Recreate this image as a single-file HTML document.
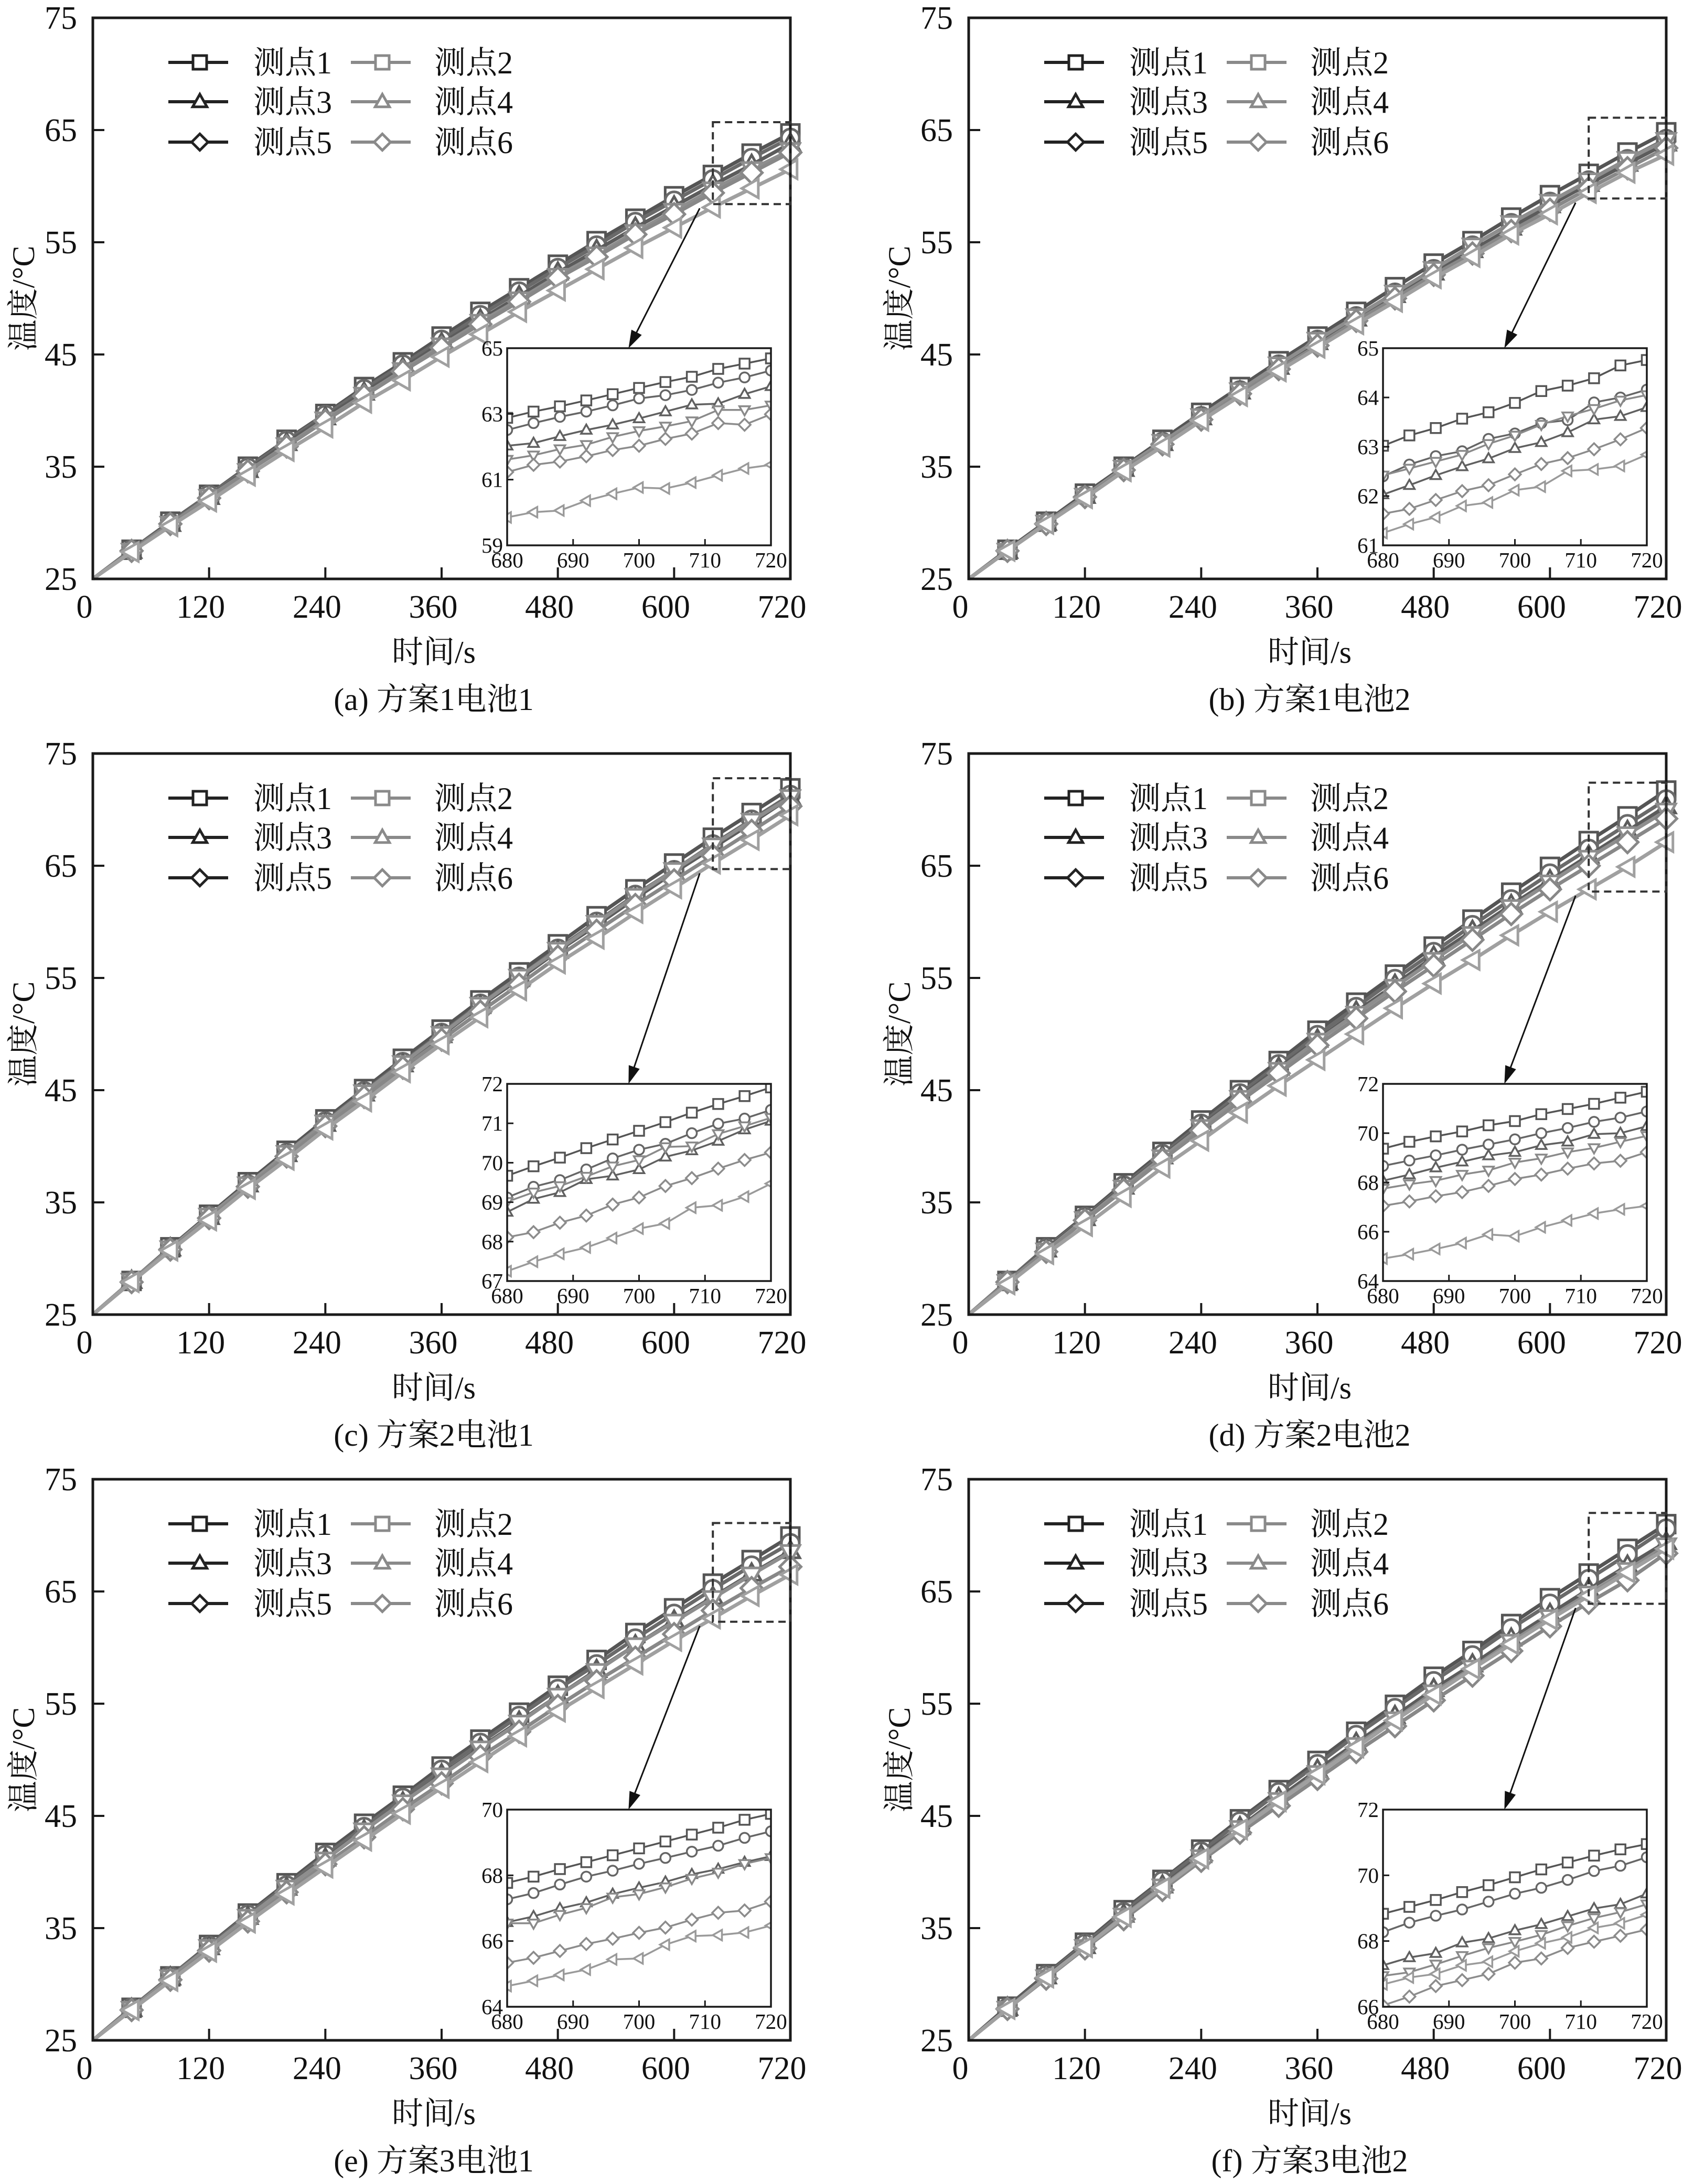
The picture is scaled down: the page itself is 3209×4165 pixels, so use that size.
<!DOCTYPE html>
<html><head><meta charset="utf-8"><title>温度曲线</title>
<style>
html,body{margin:0;padding:0;background:#fff;}
svg{display:block;}
text{font-family:"Liberation Serif","Noto Serif CJK SC",serif;fill:#111;}
</style></head>
<body>
<svg id="fig" xmlns="http://www.w3.org/2000/svg" width="3209" height="4165" viewBox="0 0 3209 4165"></svg>
<script>
// ---------- data ----------
const mainTimes = [0,40,80,120,160,200,240,280,320,360,400,440,480,520,560,600,640,680,720];
const insetTimes = [680,684,688,692,696,700,704,708,712,716,720];
const xTicks = [0,120,240,360,480,600,720];
const yTicks = [25,35,45,55,65,75];
const insetXTicks = [680,690,700,710,720];
const seriesNames = ["测点1","测点2","测点3","测点4","测点5","测点6"];
const captions = ["(a) 方案1电池1","(b) 方案1电池2","(c) 方案2电池1","(d) 方案2电池2","(e) 方案3电池1","(f) 方案3电池2"];

const panelA_main = [
 [25,27.6,30.1,32.5,35.0,37.4,39.7,42.1,44.3,46.6,48.8,50.9,53.0,55.1,57.1,59.1,61.0,62.9,64.7],
 [25,27.6,30.0,32.5,34.9,37.3,39.6,41.9,44.1,46.3,48.5,50.6,52.7,54.7,56.8,58.7,60.6,62.5,64.3],
 [25,27.5,29.9,32.3,34.7,37.1,39.4,41.6,43.8,46.0,48.1,50.2,52.3,54.3,56.3,58.2,60.1,61.9,63.8],
 [25,27.5,29.9,32.3,34.6,36.9,39.2,41.4,43.6,45.8,47.9,49.9,52.0,53.9,55.9,57.8,59.7,61.5,63.2],
 [25,27.5,29.9,32.2,34.6,36.8,39.1,41.3,43.5,45.6,47.7,49.7,51.8,53.7,55.7,57.5,59.4,61.2,63.0],
 [25,27.4,29.7,31.9,34.2,36.4,38.5,40.7,42.7,44.8,46.8,48.8,50.7,52.6,54.5,56.3,58.1,59.8,61.5]];
const panelA_inset = [
 [62.88,63.07,63.23,63.41,63.6,63.79,63.97,64.13,64.37,64.53,64.69],
 [62.51,62.72,62.91,63.07,63.26,63.47,63.57,63.73,63.95,64.11,64.32],
 [62.03,62.11,62.32,62.51,62.67,62.86,63.07,63.28,63.31,63.6,63.84],
 [61.61,61.74,61.93,62.06,62.3,62.48,62.62,62.78,63.12,63.12,63.26],
 [61.23,61.45,61.55,61.71,61.9,62.03,62.24,62.4,62.72,62.67,62.99],
 [59.85,60.01,60.06,60.36,60.57,60.76,60.73,60.91,61.13,61.34,61.45]];
const panelB_main = [
 [25,27.6,30.1,32.6,35.0,37.4,39.8,42.1,44.4,46.6,48.8,51.0,53.1,55.1,57.2,59.2,61.1,63.0,64.8],
 [25,27.5,30.0,32.4,34.9,37.2,39.5,41.8,44.1,46.3,48.4,50.5,52.6,54.7,56.7,58.6,60.5,62.4,64.2],
 [25,27.5,30.0,32.4,34.8,37.1,39.4,41.7,43.9,46.1,48.2,50.3,52.3,54.3,56.3,58.3,60.2,62.0,63.8],
 [25,27.5,30.0,32.4,34.9,37.2,39.5,41.8,44.1,46.3,48.4,50.5,52.6,54.7,56.7,58.6,60.5,62.4,64.1],
 [25,27.5,29.9,32.3,34.7,37.0,39.2,41.5,43.7,45.8,48.0,50.0,52.1,54.0,56.0,57.9,59.8,61.6,63.4],
 [25,27.5,29.9,32.2,34.6,36.8,39.1,41.3,43.5,45.6,47.7,49.7,51.8,53.7,55.7,57.5,59.4,61.2,62.8]];
const panelB_inset = [
 [63.02,63.23,63.38,63.57,63.7,63.89,64.13,64.24,64.39,64.65,64.76],
 [62.4,62.64,62.81,62.91,63.16,63.27,63.48,63.54,63.9,64.0,64.16],
 [62.03,62.22,62.42,62.6,62.76,62.97,63.09,63.29,63.55,63.62,63.8],
 [62.42,62.56,62.7,62.84,63.06,63.23,63.45,63.62,63.77,63.94,64.05],
 [61.64,61.74,61.92,62.1,62.22,62.44,62.65,62.77,62.95,63.15,63.38],
 [61.25,61.43,61.57,61.8,61.87,62.12,62.19,62.51,62.54,62.61,62.84]];
const panelC_main = [
 [25,28.0,31.0,33.9,36.8,39.6,42.4,45.1,47.8,50.4,53.0,55.5,58.0,60.5,62.9,65.2,67.5,69.7,71.9],
 [25,28.0,30.9,33.8,36.6,39.4,42.2,44.9,47.5,50.1,52.7,55.1,57.6,60.0,62.4,64.6,66.9,69.1,71.3],
 [25,28.0,30.9,33.7,36.6,39.3,42.0,44.7,47.3,49.9,52.5,54.9,57.4,59.7,62.1,64.4,66.6,68.8,71.1],
 [25,28.0,30.9,33.8,36.6,39.4,42.1,44.8,47.4,50.0,52.6,55.1,57.5,59.9,62.3,64.6,66.8,69.0,71.1],
 [25,27.9,30.8,33.6,36.4,39.1,41.8,44.4,47.0,49.5,52.0,54.4,56.9,59.2,61.5,63.7,65.9,68.1,70.3],
 [25,27.9,30.7,33.4,36.2,38.8,41.5,44.0,46.6,49.1,51.5,53.9,56.3,58.5,60.8,63.0,65.2,67.3,69.5]];
const panelC_inset = [
 [69.67,69.91,70.13,70.37,70.59,70.81,71.03,71.27,71.49,71.69,71.91],
 [69.12,69.39,69.56,69.83,70.11,70.33,70.48,70.75,70.99,71.12,71.34],
 [68.75,69.08,69.25,69.58,69.67,69.83,70.15,70.31,70.55,70.84,71.06],
 [69.01,69.25,69.41,69.65,69.91,70.07,70.4,70.42,70.73,70.93,71.14],
 [68.11,68.24,68.48,68.66,68.94,69.12,69.41,69.61,69.85,70.07,70.26],
 [67.25,67.49,67.69,67.85,68.09,68.33,68.46,68.86,68.92,69.14,69.47]];
const panelD_main = [
 [25,28.0,31.0,33.8,36.7,39.5,42.3,45.0,47.6,50.3,52.8,55.3,57.8,60.2,62.6,64.9,67.2,69.4,71.7],
 [25,28.0,30.9,33.7,36.5,39.3,42.0,44.7,47.3,49.9,52.4,54.9,57.3,59.7,62.0,64.3,66.5,68.7,70.9],
 [25,27.9,30.8,33.6,36.4,39.1,41.8,44.4,47.0,49.5,52.0,54.4,56.9,59.2,61.5,63.7,65.9,68.1,70.3],
 [25,27.9,30.7,33.5,36.3,39.0,41.7,44.3,46.8,49.4,51.8,54.2,56.6,58.9,61.3,63.5,65.7,67.8,69.9],
 [25,27.9,30.6,33.4,36.1,38.8,41.4,44.0,46.5,49.0,51.4,53.8,56.1,58.4,60.7,62.9,65.0,67.1,69.2],
 [25,27.7,30.4,32.9,35.5,38.1,40.5,43.0,45.4,47.7,50.0,52.3,54.5,56.6,58.8,60.9,62.9,64.9,67.1]];
const panelD_inset = [
 [69.37,69.65,69.87,70.07,70.32,70.49,70.77,70.98,71.19,71.44,71.68],
 [68.67,68.89,69.1,69.33,69.54,69.75,70.0,70.21,70.46,70.63,70.88],
 [68.07,68.32,68.6,68.84,69.09,69.23,69.51,69.65,69.96,70.0,70.28],
 [67.75,67.93,68.07,68.32,68.49,68.81,68.98,69.23,69.4,69.65,69.89],
 [67.05,67.23,67.44,67.61,67.86,68.14,68.32,68.56,68.77,68.88,69.23],
 [64.91,65.09,65.3,65.54,65.89,65.82,66.18,66.46,66.74,66.91,67.05]];
const panelE_main = [
 [25,27.9,30.7,33.5,36.3,39.0,41.7,44.3,46.8,49.4,51.8,54.2,56.6,58.9,61.3,63.5,65.7,67.8,69.9],
 [25,27.9,30.7,33.4,36.2,38.8,41.5,44.0,46.6,49.1,51.5,53.9,56.3,58.5,60.8,63.0,65.2,67.3,69.3],
 [25,27.8,30.6,33.3,36.0,38.6,41.2,43.7,46.2,48.7,51.1,53.4,55.7,58.0,60.2,62.4,64.5,66.6,68.6],
 [25,27.8,30.6,33.3,36.0,38.6,41.1,43.7,46.2,48.6,51.0,53.3,55.7,57.9,60.2,62.3,64.4,66.5,68.5],
 [25,27.7,30.4,33.0,35.6,38.2,40.7,43.1,45.6,47.9,50.3,52.5,54.8,57.0,59.1,61.2,63.3,65.3,67.2],
 [25,27.7,30.3,32.9,35.5,38.0,40.4,42.8,45.2,47.5,49.8,52.1,54.3,56.4,58.5,60.6,62.6,64.6,66.5]];
const panelE_inset = [
 [67.77,67.96,68.19,68.4,68.61,68.82,69.03,69.24,69.45,69.69,69.87],
 [67.27,67.46,67.72,67.96,68.14,68.35,68.53,68.72,68.9,69.14,69.34],
 [66.57,66.75,66.99,67.17,67.43,67.62,67.8,68.03,68.19,68.4,68.58],
 [66.54,66.54,66.8,67.01,67.33,67.43,67.64,67.9,68.09,68.35,68.53],
 [65.34,65.49,65.7,65.91,66.07,66.25,66.41,66.65,66.86,66.93,67.2],
 [64.63,64.79,64.97,65.13,65.44,65.47,65.89,66.15,66.18,66.26,66.47]];
const panelF_main = [
 [25,28.0,30.9,33.7,36.6,39.3,42.0,44.7,47.3,49.9,52.5,54.9,57.4,59.7,62.1,64.4,66.6,68.8,71.0],
 [25,27.9,30.8,33.6,36.4,39.2,41.8,44.5,47.1,49.6,52.2,54.6,57.0,59.3,61.7,63.9,66.1,68.3,70.6],
 [25,27.9,30.7,33.4,36.2,38.8,41.5,44.0,46.6,49.1,51.5,53.9,56.3,58.5,60.8,63.0,65.2,67.3,69.4],
 [25,27.8,30.6,33.3,36.1,38.7,41.3,43.9,46.4,48.8,51.3,53.6,56.0,58.2,60.5,62.7,64.8,66.9,69.1],
 [25,27.8,30.5,33.2,35.8,38.4,41.0,43.5,45.9,48.3,50.7,53.0,55.3,57.5,59.7,61.9,64.0,66.0,68.4],
 [25,27.8,30.6,33.3,36.0,38.6,41.2,43.8,46.3,48.7,51.1,53.5,55.8,58.1,60.3,62.5,64.6,66.7,68.8]];
const panelF_inset = [
 [68.83,69.04,69.25,69.49,69.7,69.94,70.18,70.39,70.6,70.79,70.95],
 [68.27,68.56,68.77,68.96,69.2,69.44,69.62,69.86,70.13,70.29,70.55],
 [67.26,67.5,67.63,67.95,68.08,68.32,68.51,68.75,68.99,69.12,69.44],
 [66.94,67.05,67.29,67.55,67.79,67.98,68.19,68.46,68.7,68.88,69.12],
 [66.04,66.31,66.63,66.81,67.0,67.34,67.47,67.79,67.98,68.16,68.35],
 [66.68,66.89,67.0,67.26,67.37,67.69,67.93,68.11,68.4,68.54,68.8]];
const insetYTicksA = [59,61,63,65];
const insetYTicksB = [61,62,63,64,65];
const insetYTicksC = [67,68,69,70,71,72];
const insetYTicksD = [64,66,68,70,72];
const insetYTicksE = [64,66,68,70];
const insetYTicksF = [66,68,70,72];
const zoomBoxTop = [65.7,66.1,72.8,72.4,71.1,72.0];
const zoomBoxBottom = [58.4,58.9,64.7,62.7,62.3,63.9];
const zoomBoxStart = 640;

// ---------- drawing ----------
const NS = "http://www.w3.org/2000/svg";
const svg = document.getElementById("fig");
function mk(tag, attrs, parent){
  const e = document.createElementNS(NS, tag);
  for (const k in attrs) e.setAttribute(k, attrs[k]);
  (parent||svg).appendChild(e);
  return e;
}
const mainColors = ["#555555","#6a6a6a","#5c5c5c","#8e8e8e","#888888","#a0a0a0"];
const markerKinds = ["square","circle","up","down","diamond","left"];
const legendKinds = ["square","square","up","up","diamond","diamond"];

function marker(g, kind, x, y, s, color, sw){
  const h = s/2;
  let el;
  if (kind === "square") el = mk("rect",{x:x-h,y:y-h,width:s,height:s},g);
  else if (kind === "circle") el = mk("circle",{cx:x,cy:y,r:h},g);
  else {
    let pts;
    if (kind === "up") pts = [[x,y-h*1.1],[x+h*1.05,y+h*0.75],[x-h*1.05,y+h*0.75]];
    else if (kind === "down") pts = [[x,y+h*1.1],[x+h*1.05,y-h*0.75],[x-h*1.05,y-h*0.75]];
    else if (kind === "left") pts = [[x-h*1.1,y],[x+h*0.75,y-h*1.05],[x+h*0.75,y+h*1.05]];
    else pts = [[x,y-h*1.2],[x+h*1.2,y],[x,y+h*1.2],[x-h*1.2,y]];
    el = mk("polygon",{points:pts.map(p=>p.join(",")).join(" ")},g);
  }
  el.setAttribute("fill","#fff");
  el.setAttribute("stroke",color);
  el.setAttribute("stroke-width",sw);
  
  
  return el;
}

const panels = [
 {main:panelA_main, inset:panelA_inset, iy:insetYTicksA, ox:0,    oy:0},
 {main:panelB_main, inset:panelB_inset, iy:insetYTicksB, ox:1670, oy:0},
 {main:panelC_main, inset:panelC_inset, iy:insetYTicksC, ox:0,    oy:1403},
 {main:panelD_main, inset:panelD_inset, iy:insetYTicksD, ox:1670, oy:1403},
 {main:panelE_main, inset:panelE_inset, iy:insetYTicksE, ox:0,    oy:2787},
 {main:panelF_main, inset:panelF_inset, iy:insetYTicksF, ox:1670, oy:2787}
];
const letters = ["a","b","c","d","e","f"];

panels.forEach((p, pi) => {
  const L = 177 + p.ox, T = 34 + p.oy, W = 1330, H = 1070;
  const xs = t => L + (t - 0) / 720 * W;
  const ys = v => T + H - (v - 25) / 50 * H;
  const g = mk("g", {});
  
  

  // series
  for (let s = 0; s < 6; s++){
    const sg = mk("g", {}, g);
    
    
    const vals = p.main[s];
    const pts = vals.map((v,i)=> xs(mainTimes[i]).toFixed(1)+","+ys(v).toFixed(1)).join(" ");
    const pl = mk("polyline",{points:pts, fill:"none", stroke:mainColors[s], "stroke-width":7, "stroke-linejoin":"round"}, sg);
    
    
    vals.forEach((v,i)=>{ if (i>0) marker(sg, markerKinds[s], xs(mainTimes[i]), ys(v), 34, mainColors[s], 5); });
  }

  // axes frame
  const fr = mk("rect",{x:L,y:T,width:W,height:H,fill:"none",stroke:"#1a1a1a","stroke-width":5}, g);
  
  

  xTicks.forEach(t=>{
    const x = xs(t);
    if (t>0 && t<720){
      const tk = mk("line",{x1:x,y1:T+H,x2:x,y2:T+H-22,stroke:"#1a1a1a","stroke-width":4}, g);
      
      
    }
    const tx = mk("text",{x:x-16,y:T+H+74,"text-anchor":"middle","font-size":62}, g);
    tx.textContent = t;
    
    
  });
  yTicks.forEach(v=>{
    const y = ys(v);
    if (v>25 && v<75){
      const tk = mk("line",{x1:L,y1:y,x2:L+22,y2:y,stroke:"#1a1a1a","stroke-width":4}, g);
      
      
    }
    const tx = mk("text",{x:L-30,y:y+21,"text-anchor":"end","font-size":62}, g);
    tx.textContent = v;
    
    
  });

  const xt = mk("text",{x:L+W/2-15,y:T+H+160,"text-anchor":"middle","font-size":60}, g);
  xt.textContent = "时间/s";
  
  
  const yt = mk("text",{x:0,y:0,"text-anchor":"middle","font-size":60,transform:`translate(${L-112},${T+H/2}) rotate(-90)`}, g);
  yt.textContent = "温度/°C";
  
  
  const cap = mk("text",{x:L+W/2-15,y:T+H+250,"text-anchor":"middle","font-size":60}, g);
  cap.textContent = captions[pi];
  
  

  // legend
  const rowsY = [T+85, T+160, T+237];
  for (let s = 0; s < 6; s++){
    const col = s % 2, row = Math.floor(s/2);
    const lx0 = L + (col ? 492 : 144), lx1 = lx0 + 114, mx = lx0 + 60, tx0 = L + (col ? 651 : 306);
    const c = col ? "#8a8a8a" : "#222";
    const lg = mk("g", {}, g);
    
    
    mk("line",{x1:lx0,y1:rowsY[row],x2:lx1,y2:rowsY[row],stroke:c,"stroke-width":6}, lg);
    marker(lg, legendKinds[s], mx, rowsY[row], 26, c, 5);
    const t = mk("text",{x:tx0,y:rowsY[row]+21,"font-size":60}, lg);
    t.textContent = seriesNames[s];
  }

  // zoom box
  const bx = xs(zoomBoxStart), by = ys(zoomBoxTop[pi]), bb = ys(zoomBoxBottom[pi]);
  const zb = mk("rect",{x:bx,y:by,width:L+W-bx,height:bb-by,fill:"none",stroke:"#333","stroke-width":4,"stroke-dasharray":"14 9"}, g);
  
  

  // inset
  const IL = L + 790, IT = T + 630, IW = 503, IH = 376;
  const iy0 = p.iy[0], iy1 = p.iy[p.iy.length-1];
  const ixs = t => IL + (t - 680) / 40 * IW;
  const iys = v => IT + IH - (v - iy0) / (iy1 - iy0) * IH;
  // arrow
  const ax0 = bx - 25, ay0 = bb + 8, ax1 = IL + 0.46*IW, ay1 = IT;
  const ang = Math.atan2(ay1-ay0, ax1-ax0);
  const ar = mk("line",{x1:ax0,y1:ay0,x2:ax1-Math.cos(ang)*20,y2:ay1-Math.sin(ang)*20,stroke:"#111","stroke-width":3}, g);
  
  
  const hl = 34, hw = 11;
  const bxh = ax1 - Math.cos(ang)*hl, byh = ay1 - Math.sin(ang)*hl;
  const ah = mk("polygon",{points:`${ax1},${ay1} ${bxh - Math.sin(ang)*hw},${byh + Math.cos(ang)*hw} ${bxh + Math.sin(ang)*hw},${byh - Math.cos(ang)*hw}`, fill:"#111"}, g);
  
  

  const ig = mk("g", {}, g);
  
  
  const ibg = mk("rect",{x:IL,y:IT,width:IW,height:IH,fill:"#fff"}, ig);
  
  
  const cid = "clip" + pi;
  const cp = mk("clipPath",{id:cid}, ig);
  mk("rect",{x:IL,y:IT,width:IW,height:IH}, cp);
  const inner = mk("g",{"clip-path":`url(#${cid})`}, ig);
  for (let s = 0; s < 6; s++){
    const vals = p.inset[s];
    const col = ["#555","#666","#606060","#8a8a8a","#8c8c8c","#9a9a9a"][s];
    const sg = mk("g", {}, inner);
    
    
    const pts = vals.map((v,i)=> ixs(insetTimes[i]).toFixed(1)+","+iys(v).toFixed(1)).join(" ");
    mk("polyline",{points:pts, fill:"none", stroke:col, "stroke-width":3.5}, sg);
    vals.forEach((v,i)=> marker(sg, markerKinds[s], ixs(insetTimes[i]), iys(v), 19, col, 3.5));
  }
  const ifr = mk("rect",{x:IL,y:IT,width:IW,height:IH,fill:"none",stroke:"#1a1a1a","stroke-width":3.5}, ig);
  
  
  insetXTicks.forEach(t=>{
    const x = ixs(t);
    if (t>680 && t<720) mk("line",{x1:x,y1:IT+IH,x2:x,y2:IT+IH-12,stroke:"#1a1a1a","stroke-width":3}, ig);
    const tx = mk("text",{x:x,y:IT+IH+42,"text-anchor":"middle","font-size":41}, ig);
    tx.textContent = t;
    
    
  });
  p.iy.forEach(v=>{
    const y = iys(v);
    if (v>iy0 && v<iy1) mk("line",{x1:IL,y1:y,x2:IL+12,y2:y,stroke:"#1a1a1a","stroke-width":3}, ig);
    const tx = mk("text",{x:IL-8,y:y+14,"text-anchor":"end","font-size":41}, ig);
    tx.textContent = v;
    
    
  });
});
</script>
</body></html>
